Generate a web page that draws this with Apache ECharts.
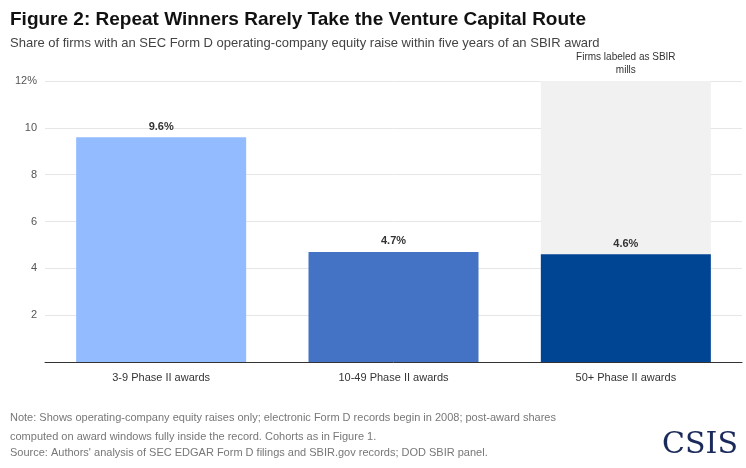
<!DOCTYPE html><html><head><meta charset="utf-8">
<script src="https://cdn.jsdelivr.net/npm/echarts@6/dist/echarts.min.js"></script>
<style>body{margin:0}#c{width:746px;height:468px}</style></head><body><div id="c"></div>
<script>
const categories=["3-9 Phase II awards","10-49 Phase II awards","50+ Phase II awards"];
const values=[9.6,4.7,4.6];
const shade=[null,null,12];
const colors=["#93bbff","#4472c4","#004494"];
const chart=echarts.init(document.getElementById('c'));
const F="Liberation Sans, Arial, sans-serif";
chart.setOption({
 animation:false,
 graphic:[
  {type:'text',left:10,top:10,style:{text:'Figure 2: Repeat Winners Rarely Take the Venture Capital Route',font:'bold 19px '+F,fill:'#111'}},
  {type:'text',left:10,top:37,style:{text:'Share of firms with an SEC Form D operating-company equity raise within five years of an SBIR award',font:'13px '+F,fill:'#444'}},
  {type:'text',left:10,top:408,style:{text:'Note: Shows operating-company equity raises only; electronic Form D records begin in 2008; post-award shares\ncomputed on award windows fully inside the record. Cohorts as in Figure 1.',font:'11px '+F,fill:'#777',lineHeight:19}},
  {type:'text',left:10,top:447,style:{text:"Source: Authors' analysis of SEC EDGAR Form D filings and SBIR.gov records; DOD SBIR panel.",font:'11px '+F,fill:'#777'}},
  {type:'text',right:8,top:430,style:{text:'CSIS',font:'30px "DejaVu Serif", "Liberation Serif", serif',fill:'#1a2a5a'}}
 ],
 grid:{left:45,right:4,top:81,bottom:106},
 xAxis:{type:'category',data:categories,axisTick:{show:false},axisLine:{lineStyle:{color:'#333'}},
  axisLabel:{color:'#333',fontSize:11,fontFamily:F,margin:10}},
 yAxis:{type:'value',min:0,max:12,interval:2,axisLabel:{color:'#555',fontSize:11,fontFamily:F,
  formatter:v=>v===0?'':(v===12?'12%':v)},splitLine:{lineStyle:{color:'#e6e6e6'}}},
 series:[
 {type:'bar',barWidth:170,z:1,silent:true,data:shade,itemStyle:{color:'#f1f1f1'},
  label:{show:true,position:'top',formatter:'Firms labeled as SBIR\nmills',color:'#333',fontSize:10,fontFamily:F,lineHeight:13,distance:4}},
 {type:'bar',barWidth:170,barGap:'-100%',z:2,
  data:values.map((v,i)=>({value:v,itemStyle:{color:colors[i]}})),
  label:{show:true,position:'top',formatter:p=>p.value.toFixed(1)+'%',fontWeight:'bold',fontSize:11,color:'#333',fontFamily:F}}
 ]
});
</script></body></html>
